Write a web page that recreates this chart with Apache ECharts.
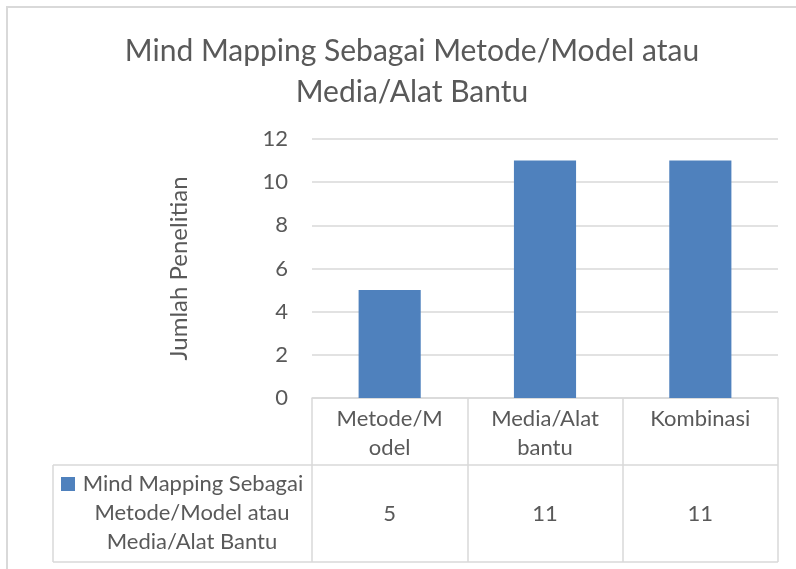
<!DOCTYPE html>
<html>
<head>
<meta charset="utf-8">
<script src="https://cdn.jsdelivr.net/npm/echarts@6/dist/echarts.min.js"></script>
<style>
  html, body { margin: 0; padding: 0; background: #fff; }
  #main { width: 796px; height: 569px; }
</style>
</head>
<body>
<div id="main"></div>
<script>
  // data
  var categories = ['Metode/Model', 'Media/Alat bantu', 'Kombinasi'];
  var headerLabels = ['Metode/M\nodel', 'Media/Alat\nbantu', 'Kombinasi'];
  var values = [5, 11, 11];
  var seriesName = 'Mind Mapping Sebagai Metode/Model atau Media/Alat Bantu';
  var legendLines = ['Mind Mapping Sebagai', 'Metode/Model atau', 'Media/Alat Bantu'];
  var yTicks = [0, 2, 4, 6, 8, 10, 12];

  var FONT = 'Lato';
  var TXT = '#595959';
  var LINE = '#D9D9D9';
  var BAR = '#4F81BD';

  var myChart = echarts.init(document.getElementById('main'));

  var option = {
    animation: false,
    title: {
      text: 'Mind Mapping Sebagai Metode/Model atau\nMedia/Alat Bantu',
      left: 407,
      textAlign: 'center',
      top: 26,
      textStyle: { fontFamily: FONT, fontSize: 30, fontWeight: 'normal', color: TXT, lineHeight: 41 }
    },
    grid: { left: 312, right: 18, top: 139, bottom: 171 },
    xAxis: {
      type: 'category',
      data: categories,
      axisLine: { lineStyle: { color: LINE, width: 1.5 } },
      axisTick: { show: true, length: 164, lineStyle: { color: LINE, width: 1.5 } },
      axisLabel: {
        margin: 6,
        fontFamily: FONT, fontSize: 22, color: TXT, lineHeight: 29,
        formatter: function (v, i) { return headerLabels[i]; }
      }
    },
    yAxis: {
      type: 'value',
      min: yTicks[0],
      max: yTicks[yTicks.length - 1],
      interval: 2,
      name: 'Jumlah Penelitian',
      nameLocation: 'middle',
      nameRotate: 90,
      nameGap: 121,
      nameTextStyle: { fontFamily: FONT, fontSize: 24, color: TXT },
      axisLine: { show: false },
      axisTick: { show: false },
      axisLabel: { margin: 24, fontFamily: FONT, fontSize: 22, color: TXT },
      splitLine: { lineStyle: { color: LINE, width: 1.5 } }
    },
    series: [{
      name: seriesName,
      type: 'bar',
      data: values,
      barWidth: '40%',
      itemStyle: { color: BAR }
    }]
  };
  myChart.setOption(option);

  // data table below the axis
  function buildTable() {
    var left = 53, rowTop = 465, bottom = 562;
    var gridRight = 778;
    var g = [];
    // outer border of the chart area
    g.push({ type: 'rect', shape: { x: 7, y: 7, width: 820, height: 600 },
      style: { fill: null, stroke: LINE, lineWidth: 2 }, z: -1 });
    g.push({ type: 'line', shape: { x1: left, y1: rowTop, x2: gridRight, y2: rowTop },
      style: { stroke: LINE, lineWidth: 1.5 } });
    g.push({ type: 'line', shape: { x1: left, y1: bottom, x2: gridRight, y2: bottom },
      style: { stroke: LINE, lineWidth: 1.5 } });
    g.push({ type: 'line', shape: { x1: left, y1: rowTop, x2: left, y2: bottom },
      style: { stroke: LINE, lineWidth: 1.5 } });
    // legend key
    g.push({ type: 'rect', shape: { x: 61, y: 477, width: 14, height: 14 }, style: { fill: BAR } });
    for (var k = 0; k < legendLines.length; k++) {
      g.push({ type: 'text', x: k === 0 ? 193 : 192, y: 484 + k * 29,
        style: { text: legendLines[k], fontFamily: FONT, fontSize: 22, fill: TXT,
          align: 'center', verticalAlign: 'middle' } });
    }
    for (var i = 0; i < values.length; i++) {
      var p = myChart.convertToPixel({ xAxisIndex: 0, yAxisIndex: 0 }, [i, 0]);
      g.push({ type: 'text', x: p[0], y: 514,
        style: { text: String(values[i]), fontFamily: FONT, fontSize: 22, fill: TXT,
          align: 'center', verticalAlign: 'middle' } });
    }
    myChart.setOption({ graphic: g });
  }
  buildTable();
  window.onresize = myChart.resize;
</script>
</body>
</html>
